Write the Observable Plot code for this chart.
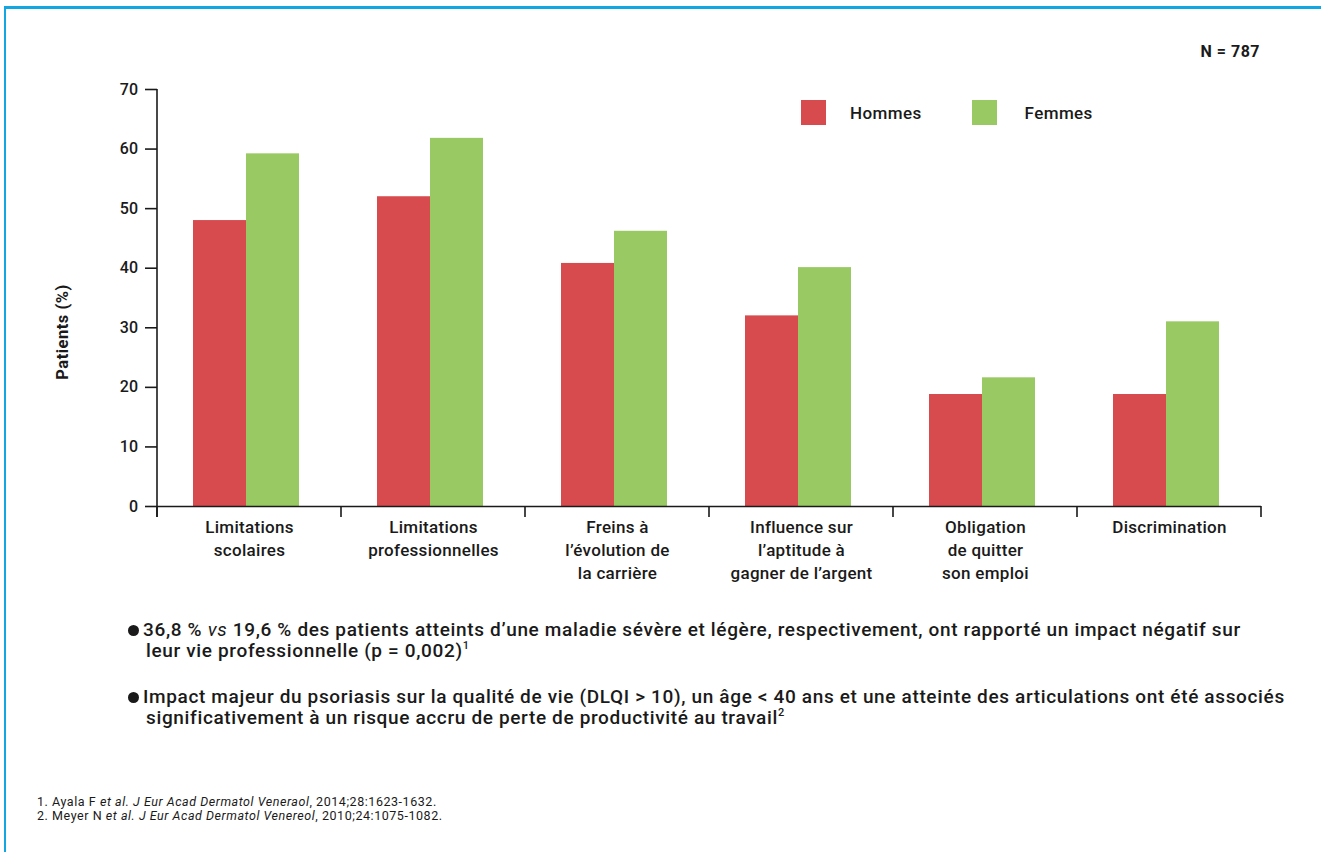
<!DOCTYPE html>
<html>
<head>
<meta charset="utf-8">
<script src="https://cdn.jsdelivr.net/npm/d3@7"></script>
<script src="https://cdn.jsdelivr.net/npm/@observablehq/plot@0.6"></script>
<style>
  html, body { margin: 0; padding: 0; background: #fff; }
  body { font-family: Roboto, "Noto Sans", sans-serif; color: #1a1a1a; }
  #page { position: relative; width: 1321px; height: 852px; overflow: hidden; }
  #borderTop { position: absolute; left: 4px; top: 6px; right: 0; height: 3px; background: #12a6e2; }
  #borderLeft { position: absolute; left: 4px; top: 6px; width: 2px; bottom: 0; background: #12a6e2; }
  #chart { position: absolute; left: 0; top: 0; }
  #n { position: absolute; right: 61px; top: 42px; font-size: 16px; font-weight: 700; letter-spacing: 0.5px; }
  #ylab { position: absolute; left: 62px; top: 332px; transform: translate(-50%, -50%) rotate(-90deg); white-space: nowrap; font-size: 16.5px; font-weight: 700; letter-spacing: 0.5px; }
  #legend { position: absolute; left: 801px; top: 100px; display: flex; align-items: center; font-size: 17px; font-weight: 500; letter-spacing: 0.4px; }
  #legend .sw { width: 25px; height: 25px; display: inline-block; }
  #legend .lab { margin-left: 24px; }
  #bullets { position: absolute; left: 128px; top: 619px; width: 1190px; font-size: 19px; font-weight: 500; line-height: 21px; letter-spacing: 0.65px; white-space: nowrap; }
  #bullets p { margin: 0 0 25px 0; padding-left: 18px; text-indent: -18px; }
  #bullets .dot { display: inline-block; width: 11px; height: 11px; border-radius: 50%; background: #1a1a1a; margin-right: 4px; vertical-align: 0px; }
  #bullets sup { font-size: 11px; vertical-align: 8px; line-height: 0; letter-spacing: 0; }
  #notes { position: absolute; left: 37px; top: 795px; font-size: 12.5px; line-height: 14px; letter-spacing: 0.55px; }
</style>
</head>
<body>
<div id="page">
  <div id="borderTop"></div>
  <div id="borderLeft"></div>
  <div id="chart"></div>
  <div id="n">N = 787</div>
  <div id="ylab">Patients (%)</div>
  <div id="legend"></div>
  <div id="bullets">
    <p><span class="dot"></span>36,8 % <i style="font-weight:400">vs</i> 19,6 % des patients atteints d’une maladie sévère et légère, respectivement, ont rapporté un impact négatif sur<br>leur vie professionnelle (p = 0,002)<sup>1</sup></p>
    <p><span class="dot"></span>Impact majeur du psoriasis sur la qualité de vie (DLQI &gt; 10), un âge &lt; 40 ans et une atteinte des articulations ont été associés<br>significativement à un risque accru de perte de productivité au travail<sup>2</sup></p>
  </div>
  <div id="notes">
    1. Ayala F <i>et al. J Eur Acad Dermatol Veneraol</i>, 2014;28:1623-1632.<br>
    2. Meyer N <i>et al. J Eur Acad Dermatol Venereol</i>, 2010;24:1075-1082.
  </div>
</div>
<script>
const categories = [
  "Limitations scolaires",
  "Limitations professionnelles",
  "Freins à l’évolution de la carrière",
  "Influence sur l’aptitude à gagner de l’argent",
  "Obligation de quitter son emploi",
  "Discrimination"
];
const categoryLabels = [
  "Limitations\nscolaires",
  "Limitations\nprofessionnelles",
  "Freins à\nl’évolution de\nla carrière",
  "Influence sur\nl’aptitude à\ngagner de l’argent",
  "Obligation\nde quitter\nson emploi",
  "Discrimination"
];
const series = ["Hommes", "Femmes"];
const hommes = [48.0, 52.0, 40.8, 32.0, 18.8, 18.8];
const femmes = [59.2, 61.8, 46.2, 40.1, 21.6, 31.0];
const colors = ["#d74b4f", "#99c963"];
const yTicks = [0, 10, 20, 30, 40, 50, 60, 70];

const rows = [];
categories.forEach((c, i) => {
  rows.push({cat: c, sex: series[0], value: hommes[i]});
  rows.push({cat: c, sex: series[1], value: femmes[i]});
});
const labelOf = new Map(categories.map((c, i) => [c, categoryLabels[i]]));

const ink = "#1a1a1a";
const plot = Plot.plot({
  width: 1321,
  height: 600,
  marginLeft: 154,
  marginRight: 58,
  marginTop: 89,
  marginBottom: 94,
  style: {fontFamily: "Roboto, 'Noto Sans', sans-serif", fontSize: "16px", fontWeight: 500, color: ink, background: "transparent", letterSpacing: "0.3px"},
  fx: {domain: categories, padding: 0, axis: null, label: null},
  x: {domain: series, paddingInner: 0, paddingOuter: 0.725, align: 0.46, axis: null, label: null},
  y: {domain: [0, 70], axis: null, label: null},
  color: {domain: series, range: colors},
  marks: [
    Plot.barY(rows, {fx: "cat", x: "sex", y: "value", fill: "sex"}),
    Plot.ruleY([0], {stroke: ink, strokeWidth: 1.6}),
    Plot.axisY({ticks: yTicks, tickSize: 12, tickPadding: 7, fontSize: 16, strokeWidth: 1.6, label: null}),
    Plot.axisFx({anchor: "bottom", tickSize: 0, tickPadding: 10, fontSize: 17, lineHeight: 1.35, lineAnchor: "top", tickFormat: d => labelOf.get(d), label: null})
  ]
});
document.getElementById("chart").appendChild(plot);

// axis line and band-boundary ticks, placed with the plot's own scales
const svgEl = plot.tagName.toLowerCase() === "svg" ? plot : plot.querySelector("svg");
const svg = d3.select(svgEl);
const fxS = plot.scale("fx");
const yS = plot.scale("y");
const y0 = yS.apply(0), yTop = yS.apply(70);
const bounds = categories.map(c => fxS.apply(c));
bounds.push(fxS.apply(categories[categories.length - 1]) + fxS.bandwidth);
const g = svg.append("g").attr("stroke", ink).attr("stroke-width", 1.6);
g.append("line").attr("x1", bounds[0]).attr("x2", bounds[0]).attr("y1", yTop).attr("y2", y0 + 11);
bounds.forEach(x => g.append("line").attr("x1", x).attr("x2", x).attr("y1", y0).attr("y2", y0 + 11));

// legend
const legend = document.getElementById("legend");
series.forEach((s, i) => {
  const sw = document.createElement("span");
  sw.className = "sw"; sw.style.background = colors[i];
  if (i > 0) sw.style.marginLeft = "50px";
  const lab = document.createElement("span");
  lab.className = "lab"; lab.textContent = s;
  if (i > 0) lab.style.marginLeft = "28px";
  legend.appendChild(sw); legend.appendChild(lab);
});
</script>
</body>
</html>
